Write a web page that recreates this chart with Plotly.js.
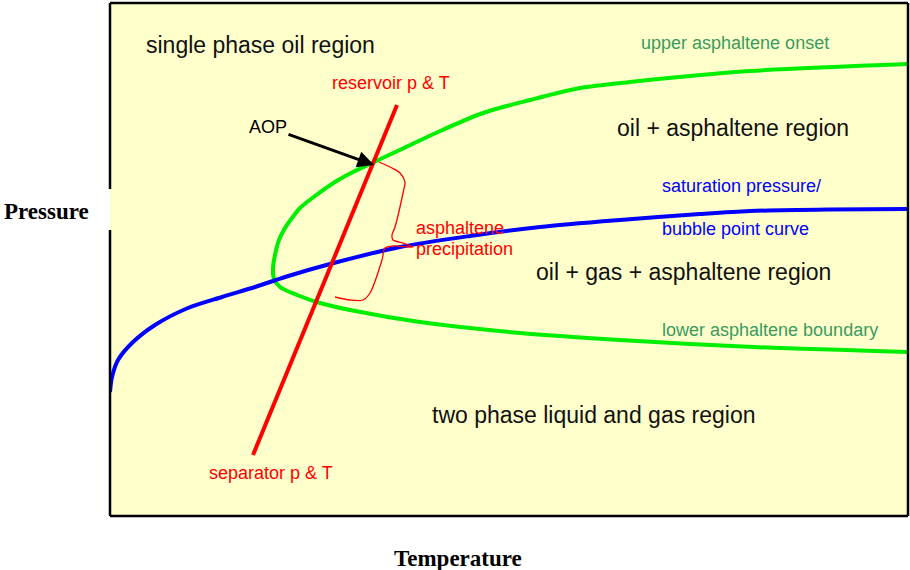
<!DOCTYPE html>
<html>
<head>
<meta charset="utf-8">
<script src="https://cdn.plot.ly/plotly-3.0.1.min.js"></script>
<style>html,body{margin:0;padding:0;background:#fff;}#chart{width:910px;height:570px;}</style>
</head>
<body>
<div id="chart"></div>
<script>
// Coordinates: x = temperature (arbitrary units), y = pressure (arbitrary units)
const envelopeT = [798, 640, 520, 470, 420, 373, 328, 294, 262, 243, 225, 205, 190, 182, 175, 169, 165, 163, 164, 170, 187, 210, 240, 310, 410, 510, 643, 798];
const envelopeP = [452, 445, 434, 428, 416, 403, 384, 368, 353, 344, 334, 320, 308, 298, 288, 276, 261, 248, 237, 229, 221, 213, 206, 194, 183, 176, 169, 164];
const bubbleT = [0, 2, 8, 22, 45, 78, 112, 145, 175, 220, 290, 360, 430, 510, 590, 640, 720, 798];
const bubbleP = [124, 139, 156, 173, 191, 208, 219, 229, 239, 252, 269, 280, 289, 296, 302, 305, 306.5, 307];
const lineT = [143, 287];
const lineP = [61, 411];
const braceT = [269, 282, 290, 295, 293, 285, 282, 283, 293, 303, 283, 275, 272, 260, 253, 240, 225];
const braceP = [354, 348, 343, 334, 323, 289, 281, 276, 273, 269, 270, 268, 256, 223, 216, 216, 219];

const traces = [
  {x: envelopeT, y: envelopeP, mode: 'lines', line: {color: '#00EE00', width: 4, shape: 'spline', smoothing: 0.8}, hoverinfo: 'skip'},
  {x: bubbleT, y: bubbleP, mode: 'lines', line: {color: '#0000FF', width: 4, shape: 'spline', smoothing: 0.8}, hoverinfo: 'skip'},
  {x: lineT, y: lineP, mode: 'lines', line: {color: '#FF0000', width: 4}, hoverinfo: 'skip'},
  {x: braceT, y: braceP, mode: 'lines', line: {color: '#FF0000', width: 1.3, shape: 'spline', smoothing: 0.8}, hoverinfo: 'skip'}
];

const sans = 'Liberation Sans, Arial, sans-serif';
const serif = 'Liberation Serif, Times New Roman, serif';
function lab(text, x, y, color, size, anchor) {
  return {text: text, x: x, y: y, xref: 'x', yref: 'y', showarrow: false,
    xanchor: anchor || 'center', yanchor: 'middle', font: {family: sans, size: size, color: color}};
}
const green = '#3A9A60';
const big = 23, small = 18;
const annotations = [
  lab('single phase oil region', 150, 471, '#111111', big),
  lab('upper asphaltene onset', 625, 473, green, small),
  lab('reservoir p &amp; T', 281, 433, '#FF0000', small),
  lab('oil + asphaltene region', 623, 388, '#111111', big),
  lab('saturation pressure/', 550, 330, '#0000FF', small, 'left'),
  lab('bubble point curve', 550, 287, '#0000FF', small, 'left'),
  lab('asphaltene', 304, 288, '#FF0000', small, 'left'),
  lab('precipitation', 304, 267, '#FF0000', small, 'left'),
  lab('oil + gas + asphaltene region', 573, 244, '#111111', big),
  lab('lower asphaltene boundary', 550, 186, green, small, 'left'),
  lab('two phase liquid and gas region', 484, 101, '#111111', big),
  lab('separator p &amp; T', 161, 43, '#FF0000', small),
  {text: 'AOP', x: 264, y: 351, ax: 158, ay: 389, xref: 'x', yref: 'y', axref: 'x', ayref: 'y',
   showarrow: true, arrowhead: 2, arrowsize: 1.1, arrowwidth: 3, arrowcolor: '#000000', standoff: 0,
   font: {family: sans, size: small, color: '#000000'}},
  {text: '<b>Pressure</b>', x: (46 - 110) / 798, y: (516 - 211) / 513, xref: 'paper', yref: 'paper',
   showarrow: false, xanchor: 'center', yanchor: 'middle', font: {family: serif, size: big, color: '#000000'}},
  {text: '<b>Temperature</b>', x: (458 - 110) / 798, y: -(558 - 516) / 513, xref: 'paper', yref: 'paper',
   showarrow: false, xanchor: 'center', yanchor: 'middle', font: {family: serif, size: big, color: '#000000'}}
];

const bw = 2.5;
const shapes = [
  {type: 'line', xref: 'paper', yref: 'paper', x0: 0, x1: 1, y0: 1, y1: 1, line: {color: '#000', width: bw}},
  {type: 'line', xref: 'paper', yref: 'paper', x0: 0, x1: 1, y0: 0, y1: 0, line: {color: '#000', width: bw}},
  {type: 'line', xref: 'paper', yref: 'paper', x0: 1, x1: 1, y0: 0, y1: 1, line: {color: '#000', width: bw}},
  {type: 'line', xref: 'paper', yref: 'paper', x0: 0, x1: 0, y0: 1, y1: (516 - 189) / 513, line: {color: '#000', width: bw}},
  {type: 'line', xref: 'paper', yref: 'paper', x0: 0, x1: 0, y0: (516 - 230) / 513, y1: 0, line: {color: '#000', width: bw}}
];

const layout = {
  width: 910, height: 570,
  margin: {l: 110, r: 2, t: 3, b: 54, pad: 0},
  paper_bgcolor: '#FFFFFF', plot_bgcolor: '#FFFFCC',
  showlegend: false,
  xaxis: {range: [0, 798], autorange: false, visible: false, fixedrange: true},
  yaxis: {range: [0, 513], autorange: false, visible: false, fixedrange: true},
  annotations: annotations, shapes: shapes
};
Plotly.newPlot('chart', traces, layout, {staticPlot: true, displayModeBar: false});
</script>
</body>
</html>
